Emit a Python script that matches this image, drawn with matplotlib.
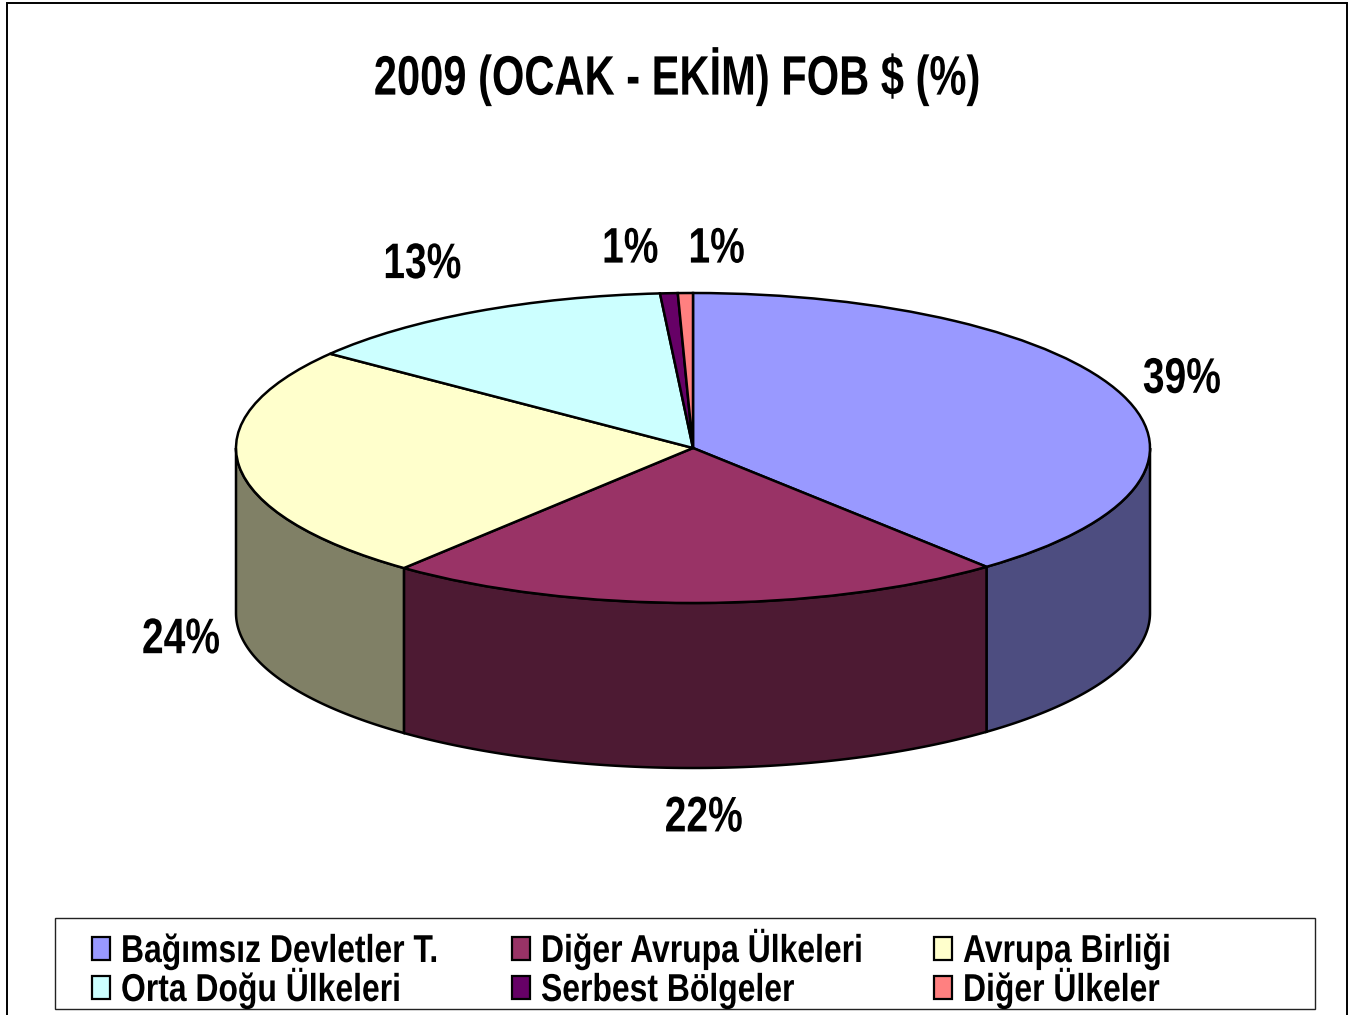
import numpy as np
import matplotlib
matplotlib.use('Agg')
import matplotlib.pyplot as plt
from matplotlib.patches import Rectangle
from matplotlib.patheffects import AbstractPathEffect
from matplotlib.transforms import Affine2D

W, H = 1350, 1015

title = '2009 (OCAK - EKİM) FOB $ (%)'
names = ['Bağımsız Devletler T.', 'Diğer Avrupa Ülkeleri', 'Avrupa Birliği',
         'Orta Doğu Ülkeleri', 'Serbest Bölgeler', 'Diğer Ülkeler']
values = [38.9, 22.0, 24.5, 13.45, 0.62, 0.53]
top_colors = ['#9999FF', '#993366', '#FFFFCC', '#CCFFFF', '#660066', '#FF8080']
side_colors = ['#4D4D80', '#4D1A33', '#808066', '#668080', '#330033', '#804040']

plt.rcParams['font.family'] = ['Liberation Sans', 'DejaVu Sans']
plt.rcParams['font.weight'] = 'bold'


class Squeeze(AbstractPathEffect):
    # narrows text sideways, no condensed bold font is installed
    def __init__(self, sx, anchor='center'):
        super().__init__()
        self.sx = sx
        self.anchor = anchor

    def draw_path(self, renderer, gc, tpath, affine, rgbFace=None):
        xs = affine.transform(tpath.vertices)[:, 0]
        cx = xs.min() if self.anchor == 'left' else (xs.min() + xs.max()) / 2
        squeeze = Affine2D().translate(-cx, 0).scale(self.sx, 1).translate(cx, 0)
        renderer.draw_path(gc, tpath, affine + squeeze, rgbFace)


fig = plt.figure(figsize=(W / 100, H / 100), dpi=100)


def fig_box(x0, y0, x1, y1):
    # pixel box (y from the top) to figure fractions
    return [x0 / W, 1 - y1 / H, (x1 - x0) / W, (y1 - y0) / H]


# axes spans the top ellipse, x and y both run -1..1
ax = fig.add_axes(fig_box(236, 293, 1150, 603))
depth = 165 / 155

# outer frame
fig.add_artist(Rectangle((7 / W, -0.02), 1340 / W, 1.02 - 3 / H, transform=fig.transFigure,
                         fill=False, ec='black', lw=1.4))

wedges, pie_texts = ax.pie(values, colors=top_colors, startangle=90, counterclock=False,
                           radius=1, wedgeprops=dict(ec='black', lw=1.8, clip_on=False, zorder=3))
for t in pie_texts:
    t.set_visible(False)
ax.set_aspect('auto')
ax.set_xlim(-1, 1)
ax.set_ylim(-1, 1)
ax.axis('off')

# side wall: only the part of each slice below the horizontal diameter shows
ends = np.cumsum(values) / 100 * 360
starts = ends - np.array(values) / 100 * 360
for a0, a1, c in zip(starts, ends, side_colors):
    lo, hi = max(a0, 90), min(a1, 270)
    if hi <= lo:
        continue
    th = np.radians(np.linspace(lo, hi, 100))
    x = np.sin(th)
    y = np.cos(th)
    ax.fill(np.r_[x, x[::-1]], np.r_[y, y[::-1] - depth], fc=c, ec='black', lw=1.8,
            clip_on=False, zorder=2)

# percent labels, placed by hand around the ellipse
label_pos = [(1.07, 0.44), (0.024, -2.39), (-1.12, -1.24), (-0.592, 1.18), (-0.137, 1.28), (0.052, 1.28)]
for v, (lx, ly) in zip(values, label_pos):
    ax.text(lx, ly, '%.0f%%' % v, ha='center', va='center', fontsize=36, fontweight='bold',
            clip_on=False, path_effects=[Squeeze(0.78)])

fig.text(677 / W, 1 - 77 / H, title, ha='center', va='center', fontsize=40, fontweight='bold',
         path_effects=[Squeeze(0.75)])

# legend box by hand: the squeezed text and fixed rows do not suit fig.legend
fig.add_artist(Rectangle((55 / W, 1 - 1009 / H), 1260 / W, 91 / H, transform=fig.transFigure,
                         fc='white', ec='#222222', lw=1.0))
col_x = [92, 512, 934]
row_base = [962, 1001]
for i, (name, c) in enumerate(zip(names, top_colors)):
    px = col_x[i % 3]
    base = row_base[i // 3]
    fig.add_artist(Rectangle((px / W, 1 - (base - 2) / H), 18 / W, 23 / H, transform=fig.transFigure,
                             fc=c, ec='black', lw=1.6))
    fig.text((px + 29) / W, 1 - base / H, name, ha='left', va='baseline', fontsize=28,
             fontweight='bold', path_effects=[Squeeze(0.82, 'left')])

fig.savefig('out.png', dpi=100)
